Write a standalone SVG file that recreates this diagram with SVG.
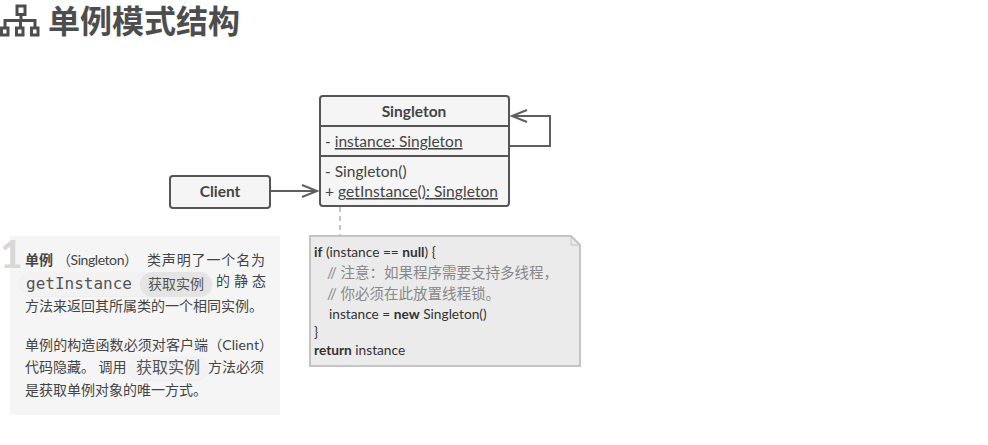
<svg xmlns="http://www.w3.org/2000/svg" width="988" height="445" viewBox="0 0 988 445">
<defs>
<style>
text{font-family:"Lato","Noto Sans CJK SC",sans-serif;fill:#4d4d4d}
.u{font-size:15.500px;fill:#444}
.b{font-weight:700}
.box{fill:#f5f5f5;stroke:#555;stroke-width:2}
.p{font-size:14px;fill:#444}
.c{font-size:13.700px;fill:#333}
.g{font-size:14.500px;fill:#888}
.m{font-family:"DejaVu Sans Mono","Noto Sans CJK SC",monospace;fill:#555}
.conn{fill:none;stroke:#5f5f5f;stroke-width:2}
</style>
</defs>
<rect width="988" height="445" fill="#fff"/>
<g id="title">
<g fill="none" stroke="#4d4d4d" stroke-width="3">
<rect x="17" y="6" width="8" height="8.500"/>
<path d="M21 15V20M5 27V20.500H35V27M20.500 20V27"/>
<rect x="1.500" y="28" width="6.500" height="7"/><rect x="16.500" y="28" width="6.500" height="7"/><rect x="31.500" y="28" width="6.500" height="7"/>
</g>
<text x="48" y="33" font-size="32" font-weight="700" fill="#4d4d4d">单例模式结构</text>
</g>
<g id="panel">
<rect x="10" y="236" width="270" height="179" fill="#f5f5f5"/>
<text x="0" y="268" font-size="39" font-weight="700" style="fill:#d8d8d8">1</text>
<text class="p b" x="25" y="265">单例</text>
<text class="p" x="57" y="265" textLength="81" lengthAdjust="spacing">（Singleton）</text>
<text class="p" x="147" y="265" textLength="118" lengthAdjust="spacing">类声明了一个名为</text>
<rect x="19" y="272" width="194" height="25" rx="12.500" fill="#eeeeee"/>
<rect x="19" y="272" width="194" height="24" rx="12" fill="#f2f2f2"/>
<rect x="140" y="272" width="72" height="25" rx="12.500" fill="#e4e4e4"/>
<text class="m" x="26" y="289" font-size="16">getInstance</text>
<text class="m" x="148" y="289" font-size="14">获取实例</text>
<text class="p" x="216" y="286" textLength="50" lengthAdjust="spacing">的 静 态</text>
<text class="p" x="25" y="311">方法来返回其所属类的一个相同实例。</text>
<text class="p" x="25" y="350" textLength="248" lengthAdjust="spacing">单例的构造函数必须对客户端（Client）</text>
<text class="p" x="25" y="372">代码隐藏。 调用</text>
<rect x="128" y="356" width="80" height="25" rx="12.500" fill="#ececec"/>
<rect x="128" y="356" width="80" height="24" rx="12" fill="#f2f2f2"/>
<text class="m" x="136" y="373" font-size="16">获取实例</text>
<text class="p" x="208" y="372">方法必须</text>
<text class="p" x="25" y="395">是获取单例对象的唯一方式。</text>
</g>
<g id="connectors">
<path class="conn" d="M271 191H317M302 185L317 191L302 197"/>
<path class="conn" d="M509 146H550V116H512M527 110L512 116L527 122"/>
<path d="M340 207V236" fill="none" stroke="#c4c4c4" stroke-width="2" stroke-dasharray="5 4"/>
</g>
<g id="client">
<rect class="box" x="170" y="176" width="100" height="32" rx="3"/>
<text class="u b" x="220" y="197" text-anchor="middle">Client</text>
</g>
<g id="singleton">
<rect class="box" x="320" y="96" width="189" height="110" rx="3"/>
<path d="M320 126H509M320 156H509" stroke="#555" stroke-width="2" fill="none"/>
<text class="u b" x="414" y="117" text-anchor="middle">Singleton</text>
<text class="u" x="325" y="147">- <tspan text-decoration="underline">instance: Singleton</tspan></text>
<text class="u" x="325" y="177">- Singleton()</text>
<text class="u" x="325" y="197" textLength="173" lengthAdjust="spacing">+ <tspan text-decoration="underline">getInstance(): Singleton</tspan></text>
</g>
<g id="note">
<path d="M310 236H571L580 245V366H310Z" fill="#ebebeb" stroke="#c4c4c4" stroke-width="2"/>
<path d="M571 236V245H580" fill="none" stroke="#c4c4c4" stroke-width="1"/>
<text class="c" x="314" y="257"><tspan class="b">if</tspan> (instance == <tspan class="b">null</tspan>) {</text>
<text class="g" x="327" y="278">// 注意：如果程序需要支持多线程，</text>
<text class="g" x="327" y="299">// 你必须在此放置线程锁。</text>
<text class="c" x="329" y="319">instance = <tspan class="b">new</tspan> Singleton()</text>
<text class="c" x="314" y="337">}</text>
<text class="c" x="314" y="355"><tspan class="b">return</tspan> instance</text>
</g>
</svg>
